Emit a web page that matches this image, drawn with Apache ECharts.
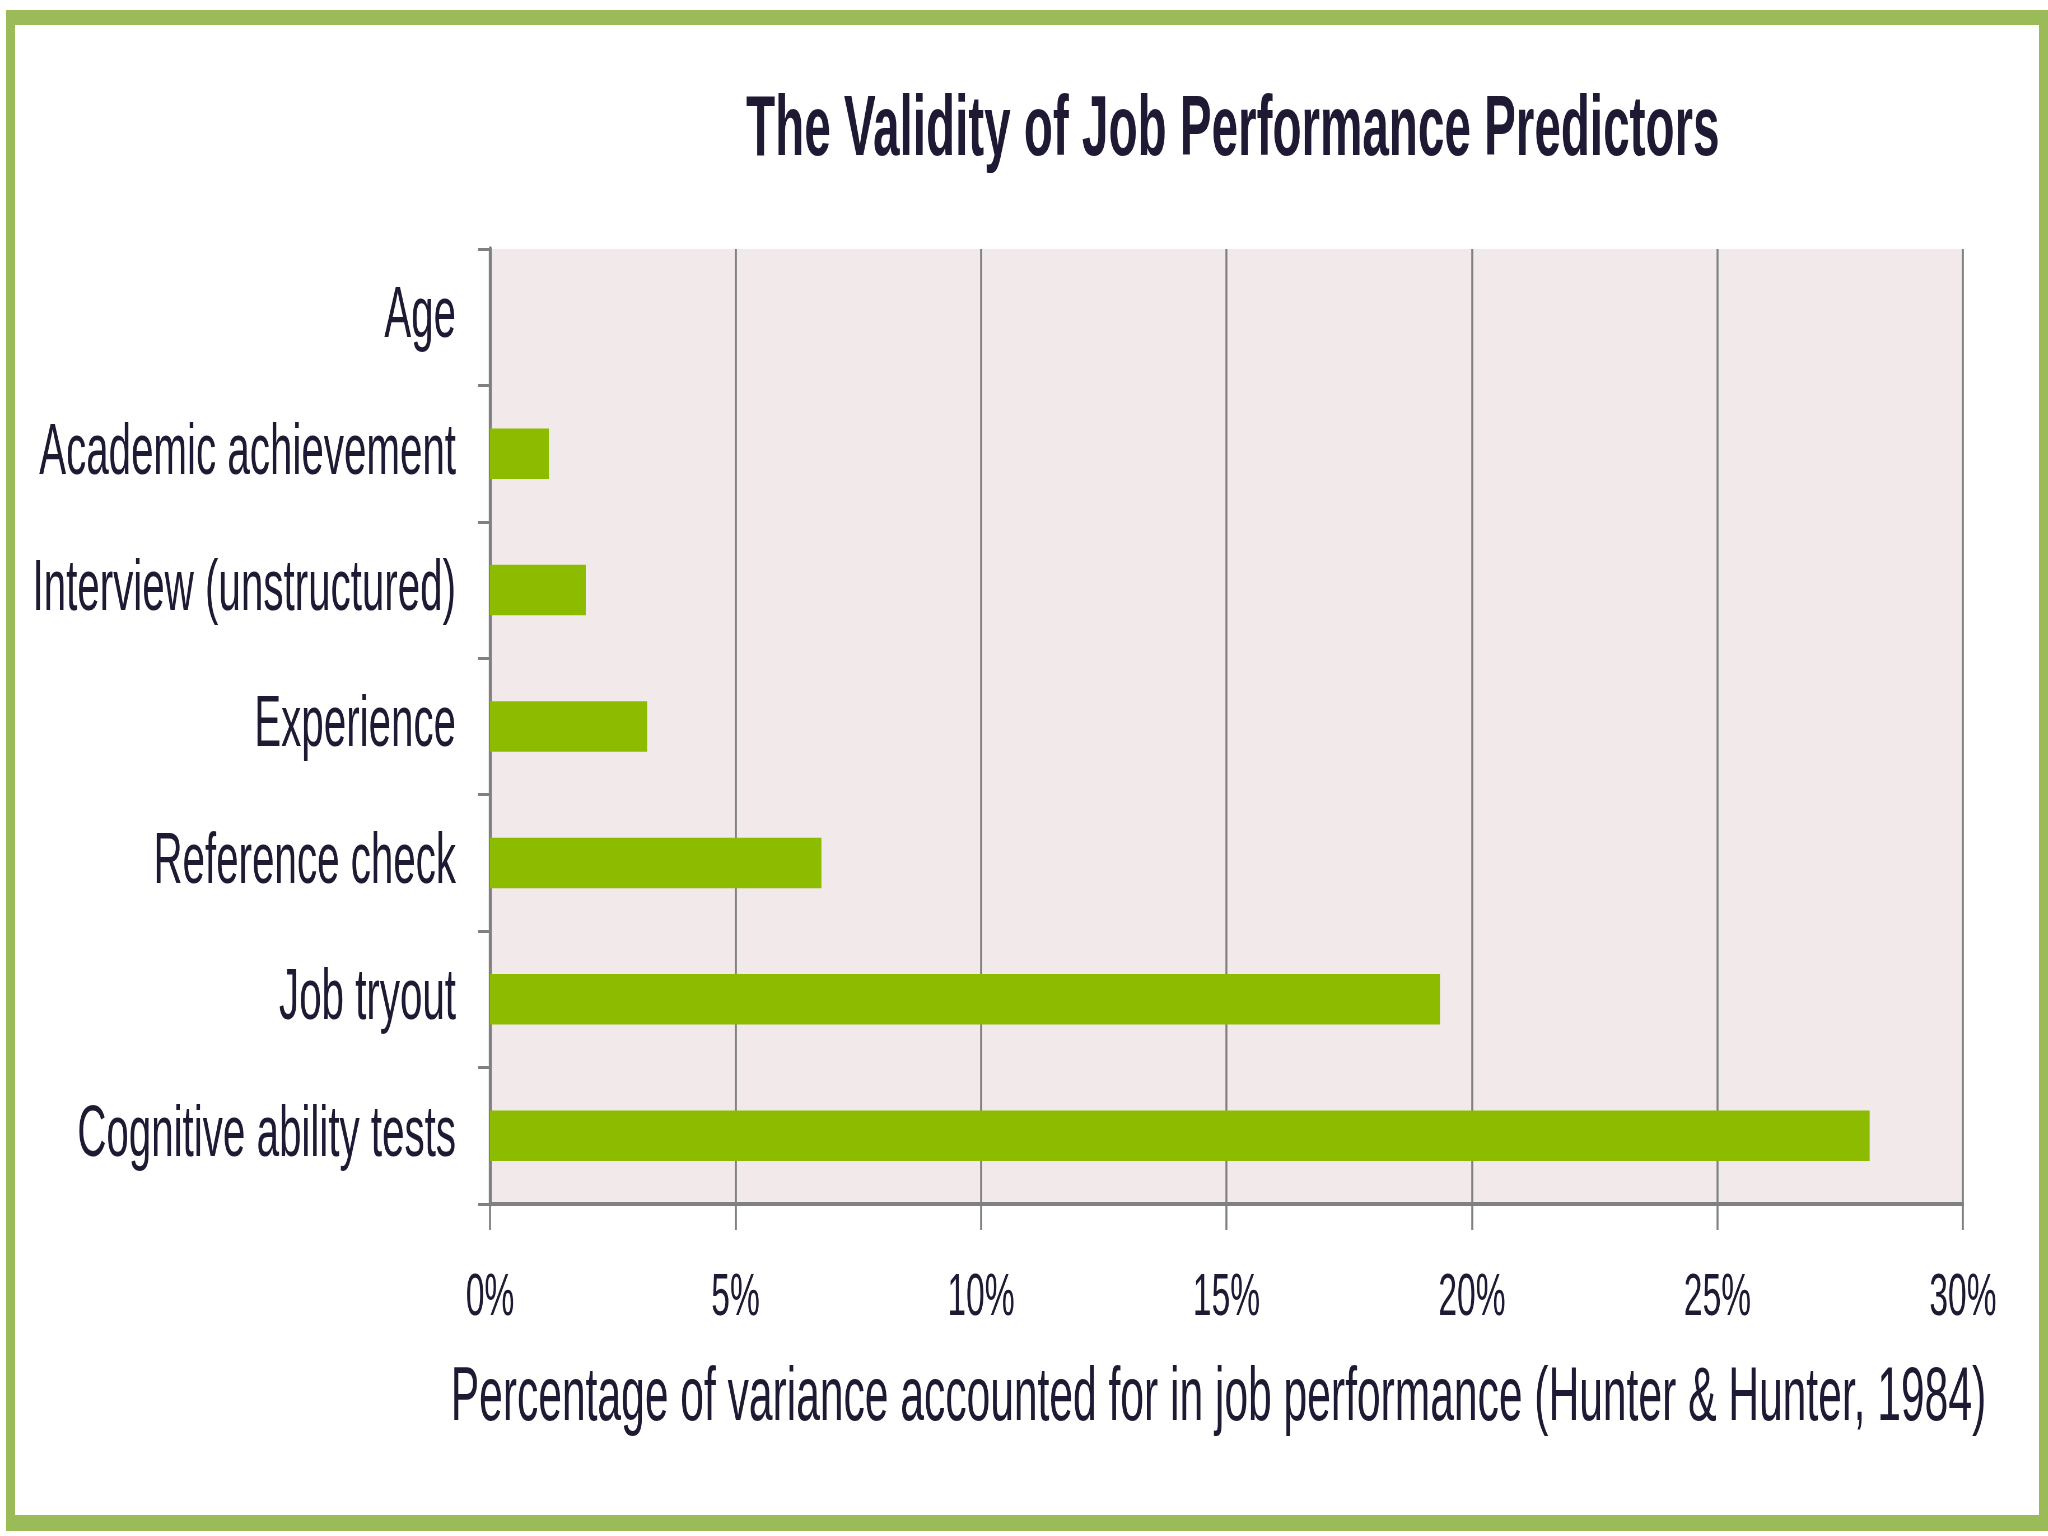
<!DOCTYPE html>
<html>
<head>
<meta charset="utf-8">
<script src="https://cdn.jsdelivr.net/npm/echarts@6/dist/echarts.min.js"></script>
<style>
  html, body { margin: 0; padding: 0; width: 2048px; height: 1536px; overflow: hidden; background: #ffffff; }
  #chart { position: absolute; left: 0; top: 0; height: 1536px; transform-origin: 0 0; }
  #frame { position: absolute; left: 6px; top: 10px; width: 2042px; height: 1521px; box-sizing: border-box;
           border-style: solid; border-color: #9BBB59; border-width: 15px 9px 16px 9px; pointer-events: none; z-index: 5; }
</style>
</head>
<body>
<div id="chart"></div>
<div id="frame"></div>
<script>
// ---- data ----
const categories = ['Age', 'Academic achievement', 'Interview (unstructured)', 'Experience', 'Reference check', 'Job tryout', 'Cognitive ability tests'];
const variancePct = [0, 1.2, 1.95, 3.2, 6.75, 19.35, 28.1];
const xTicks = [0, 5, 10, 15, 20, 25, 30];
const titleText = 'The Validity of Job Performance Predictors';
const xAxisName = 'Percentage of variance accounted for in job performance (Hunter & Hunter, 1984)';

// horizontal condensation of the original narrow typeface
const S = 0.56;
const W = 2048 / S;
const el = document.getElementById('chart');
el.style.width = W + 'px';
el.style.transform = 'scaleX(' + S + ')';

const textColor = '#1F1933';
const gray = '#808080';
const font = 'Liberation Sans, Arial, sans-serif';

const chart = echarts.init(el, null, { renderer: 'canvas' });
chart.setOption({
  animation: false,
  backgroundColor: '#ffffff',
  title: {
    text: titleText,
    left: 1230 / S,
    top: 84,
    textAlign: 'center',
    textStyle: { fontFamily: font, fontSize: 85, fontWeight: 'bold', color: textColor }
  },
  grid: {
    left: 490 / S, right: 85 / S, top: 249, bottom: 332,
    show: true, backgroundColor: '#F2EAEA', borderWidth: 0
  },
  xAxis: {
    type: 'value',
    min: xTicks[0], max: xTicks[xTicks.length - 1], interval: 5,
    name: xAxisName,
    nameLocation: 'middle',
    nameGap: 157,
    nameTextStyle: { fontFamily: font, fontSize: 76, color: textColor, padding: [0, 16 / S, 0, 0] },
    axisLine: { show: true, lineStyle: { color: gray, width: 4 } },
    axisTick: { show: true, length: 26, lineStyle: { color: gray, width: 2 / S } },
    axisLabel: { margin: 64, fontFamily: font, fontSize: 60, color: textColor, formatter: '{value}%' },
    splitLine: { show: true, lineStyle: { color: gray, width: 2 / S } }
  },
  yAxis: {
    type: 'category',
    data: categories,
    inverse: true,
    axisLine: { show: true, lineStyle: { color: gray, width: 3 / S } },
    axisTick: { show: true, length: 12 / S, lineStyle: { color: gray, width: 3 } },
    axisLabel: { margin: 34 / S, fontFamily: font, fontSize: 72, color: textColor },
    splitLine: { show: false }
  },
  series: [{
    type: 'bar',
    data: variancePct,
    barWidth: '37%',
    itemStyle: { color: '#8CBB00' }
  }]
});
</script>
</body>
</html>
